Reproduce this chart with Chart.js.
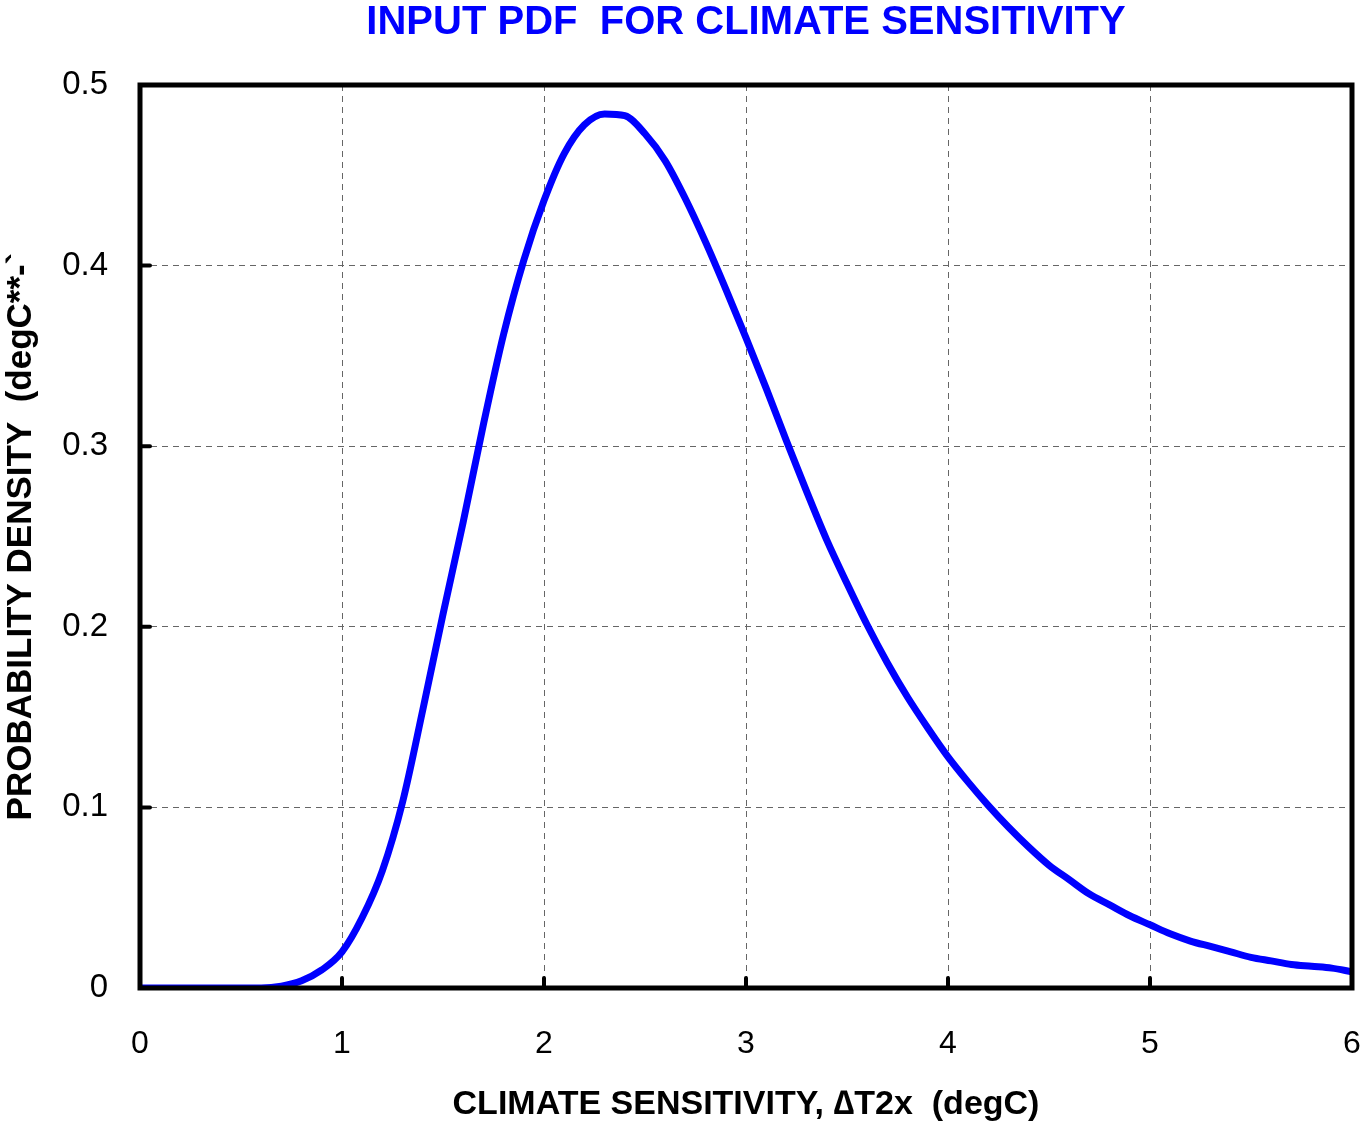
<!DOCTYPE html>
<html>
<head>
<meta charset="utf-8">
<script src="https://cdn.jsdelivr.net/npm/chart.js@4.4.1/dist/chart.umd.min.js"></script>
<style>
  html, body { margin: 0; padding: 0; background: #fff; }
  #wrap { width: 1364px; height: 1125px; position: relative; }
</style>
</head>
<body>
<div id="wrap"><canvas id="chart"></canvas></div>
<script>
// climate sensitivity (degC) and density
const sensitivity = [
  0.0, 0.1, 0.2, 0.3, 0.4, 0.5, 0.6, 0.7, 0.8, 0.9,
  1.0, 1.1, 1.2, 1.3, 1.4, 1.5, 1.6, 1.7, 1.8, 1.9,
  2.0, 2.1, 2.2, 2.3, 2.4, 2.5, 2.6, 2.7, 2.8, 2.9,
  3.0, 3.1, 3.2, 3.3, 3.4, 3.5, 3.6, 3.7, 3.8, 3.9,
  4.0, 4.1, 4.2, 4.3, 4.4, 4.5, 4.6, 4.7, 4.8, 4.9,
  5.0, 5.1, 5.2, 5.3, 5.4, 5.5, 5.6, 5.7, 5.8, 5.9, 6.0
];
const density = [
  0, 0, 0, 0, 0, 0, 0, 0.001, 0.004, 0.010,
  0.020, 0.039, 0.065, 0.103, 0.154, 0.207, 0.258, 0.312, 0.362, 0.403,
  0.436, 0.462, 0.478, 0.484, 0.483, 0.473, 0.458, 0.437, 0.413, 0.387,
  0.360, 0.332, 0.303, 0.275, 0.248, 0.224, 0.201, 0.180, 0.161, 0.144,
  0.128, 0.114, 0.101, 0.089, 0.078, 0.068, 0.060, 0.052, 0.046, 0.040,
  0.035, 0.030, 0.026, 0.023, 0.020, 0.017, 0.015, 0.013, 0.012, 0.011, 0.009
];
const xTicks = [0, 1, 2, 3, 4, 5, 6];
const yTicks = [0, 0.1, 0.2, 0.3, 0.4, 0.5];

const titleText = 'INPUT PDF  FOR CLIMATE SENSITIVITY';
const xTitle = 'CLIMATE SENSITIVITY, \u2206T2x  (degC)';
const yTitle = 'PROBABILITY DENSITY  (degC**-`';

const points = sensitivity.map((x, i) => ({ x: x, y: density[i] }));

// heavy frame plus short inward tick marks, like the original
const framePlugin = {
  id: 'frame',
  afterDraw(chart) {
    const { ctx, chartArea: a, scales } = chart;
    ctx.save();
    ctx.strokeStyle = '#000';
    ctx.lineCap = 'round';
    ctx.lineWidth = 4;
    xTicks.forEach(v => {
      const px = scales.x.getPixelForValue(v);
      ctx.beginPath();
      ctx.moveTo(px, a.bottom);
      ctx.lineTo(px, a.bottom - 10);
      ctx.stroke();
    });
    yTicks.forEach(v => {
      const py = scales.y.getPixelForValue(v);
      ctx.beginPath();
      ctx.moveTo(a.left, py);
      ctx.lineTo(a.left + 10, py);
      ctx.stroke();
    });
    ctx.lineCap = 'butt';
    ctx.lineWidth = 5;
    ctx.strokeRect(a.left, a.top, a.right - a.left, a.bottom - a.top);
    ctx.restore();
  }
};

new Chart(document.getElementById('chart'), {
  type: 'line',
  data: {
    datasets: [{
      data: points,
      borderColor: '#0000ff',
      borderWidth: 7,
      pointRadius: 0,
      fill: false,
      cubicInterpolationMode: 'monotone'
    }]
  },
  options: {
    responsive: true,
    maintainAspectRatio: false,
    animation: false,
    layout: { padding: { left: 0, right: 12, top: 0, bottom: 0 } },
    plugins: {
      legend: { display: false },
      tooltip: { enabled: false },
      title: {
        display: true,
        text: titleText,
        fullSize: false,
        color: '#0000ff',
        font: { family: 'Liberation Sans, Arial, sans-serif', size: 40, weight: 'bold', lineHeight: 1.0 },
        padding: { top: 3, bottom: 42 }
      }
    },
    scales: {
      x: {
        type: 'linear',
        min: 0,
        max: 6,
        afterFit: s => { s.height = 137; s.paddingLeft = 0; s.paddingRight = 0; },
        afterBuildTicks: s => { s.ticks = xTicks.map(v => ({ value: v })); },
        grid: {
          color: '#666',
          lineWidth: 1,
          drawTicks: false,
          tickLength: 0
        },
        border: { display: false, dash: [6, 5] },
        ticks: {
          color: '#000',
          padding: 37,
          maxRotation: 0,
          font: { family: 'Liberation Sans, Arial, sans-serif', size: 32 }
        },
        title: {
          display: true,
          text: xTitle,
          color: '#000',
          font: { family: 'Liberation Sans, Arial, sans-serif', size: 34, weight: 'bold' },
          padding: { top: 0, bottom: 0 }
        }
      },
      y: {
        type: 'linear',
        min: 0,
        max: 0.5,
        afterFit: s => { s.width = 140; },
        afterBuildTicks: s => { s.ticks = yTicks.map(v => ({ value: v })); },
        grid: {
          color: '#666',
          lineWidth: 1,
          drawTicks: false,
          tickLength: 0
        },
        border: { display: false, dash: [6, 5] },
        ticks: {
          color: '#000',
          padding: 32,
          font: { family: 'Liberation Sans, Arial, sans-serif', size: 33 },
          callback: v => (v === 0 ? '0' : v.toFixed(1))
        },
        title: {
          display: true,
          text: yTitle,
          color: '#000',
          font: { family: 'Liberation Sans, Arial, sans-serif', size: 35, weight: 'bold' },
          padding: { top: 0, bottom: 0 }
        }
      }
    }
  },
  plugins: [framePlugin]
});
</script>
</body>
</html>
